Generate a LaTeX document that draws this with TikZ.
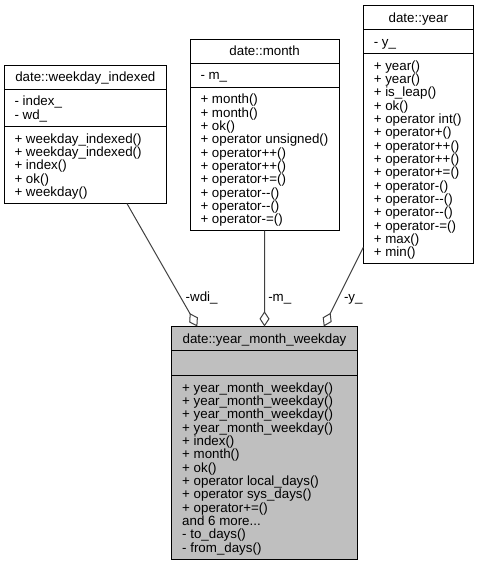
\documentclass[tikz,border=0pt]{standalone}
\usepackage{fontspec}
\newfontfamily\umlfont{Liberation Sans}
\usetikzlibrary{arrows.meta}
\definecolor{grey75}{HTML}{BFBFBF}
\definecolor{edgegrey}{HTML}{404040}
\begin{document}
\begin{tikzpicture}[x=0.75pt,y=-0.75pt,
  classbox/.style={draw=black, line width=0.75pt, fill=white, inner sep=0pt, outer sep=0pt, anchor=north west},
  rootbox/.style={classbox, fill=grey75},
  umltext/.style={font=\umlfont\fontsize{10}{10}\selectfont, inner sep=0pt, outer sep=0pt},
  classname/.style={umltext, anchor=base},
  members/.style={umltext, anchor=north west, align=left},
  divider/.style={draw=black, line width=0.75pt},
  link/.style={draw=edgegrey, line width=0.75pt, -{Diamond[length=11.5pt, width=7.5pt, fill=white]}},
  role/.style={umltext, anchor=base west}
]
\useasboundingbox (0,0) rectangle (478,565);

% ---- date::weekday_indexed ----
\node[classbox, minimum width=122.0pt, minimum height=103.9pt] (wdi) at (4,65) {};
\draw[divider] (4,89) -- (166.7,89);
\draw[divider] (4,126.3) -- (166.7,126.3);
\node[classname] (wdiname) at (85.35,81.8) {date::weekday\_indexed};
\node[members] (wdiattr) at (14.5,94.35) {\rule{0pt}{8.55pt}- index\_\\- wd\_};
\node[members] (wdiops) at (14.5,131.65) {\rule{0pt}{8.55pt}+ weekday\_indexed()\\+ weekday\_indexed()\\+ index()\\+ ok()\\+ weekday()};

% ---- date::month ----
\node[classbox, minimum width=112.0pt, minimum height=143.8pt] (mon) at (190,39) {};
\draw[divider] (190,63) -- (339.3,63);
\draw[divider] (190,87) -- (339.3,87);
\node[classname] (monname) at (264.65,55.8) {date::month};
\node[members] (monattr) at (200.5,68.35) {\rule{0pt}{8.55pt}- m\_};
\node[members] (monops) at (200.5,92.35) {\rule{0pt}{8.55pt}+ month()\\+ month()\\+ ok()\\+ operator unsigned()\\+ operator++()\\+ operator++()\\+ operator+=()\\+ operator--()\\+ operator--()\\+ operator-=()};

% ---- date::year ----
\node[classbox, minimum width=82.5pt, minimum height=193.65pt] (yr) at (363.3,5.5) {};
\draw[divider] (363.3,29.5) -- (473.3,29.5);
\draw[divider] (363.3,53.5) -- (473.3,53.5);
\node[classname] (yrname) at (418.3,22.3) {date::year};
\node[members] (yrattr) at (373.8,34.85) {\rule{0pt}{8.55pt}- y\_};
\node[members] (yrops) at (373.8,58.85) {\rule{0pt}{8.55pt}+ year()\\+ year()\\+ is\_leap()\\+ ok()\\+ operator int()\\+ operator+()\\+ operator++()\\+ operator++()\\+ operator+=()\\+ operator-()\\+ operator--()\\+ operator--()\\+ operator-=()\\+ max()\\+ min()};

% ---- date::year_month_weekday ----
\node[rootbox, minimum width=139.2pt, minimum height=174.45pt] (ymw) at (171.7,326.5) {};
\draw[divider] (171.7,350.5) -- (357.3,350.5);
\draw[divider] (171.7,375.5) -- (357.3,375.5);
\node[classname] (ymwname) at (264.5,343.3) {date::year\_month\_weekday};
\node[members] (ymwops) at (182.2,380.85) {\rule{0pt}{8.55pt}+ year\_month\_weekday()\\+ year\_month\_weekday()\\+ year\_month\_weekday()\\+ year\_month\_weekday()\\+ index()\\+ month()\\+ ok()\\+ operator local\_days()\\+ operator sys\_days()\\+ operator+=()\\and 6 more...\\- to\_days()\\- from\_days()};

% ---- aggregation links ----
\draw[link] (wdi.-59.7) -- (ymw.120.9);
\draw[link] (mon.south) -- (ymw.north);
\draw[link] (yr.-116.3) -- (ymw.63.8);

\node[role] (rolewdi) at (185.7,301) {-wdi\_};
\node[role] (rolem) at (268.3,301) {-m\_};
\node[role] (roley) at (344,301) {-y\_};
\end{tikzpicture}
\end{document}
